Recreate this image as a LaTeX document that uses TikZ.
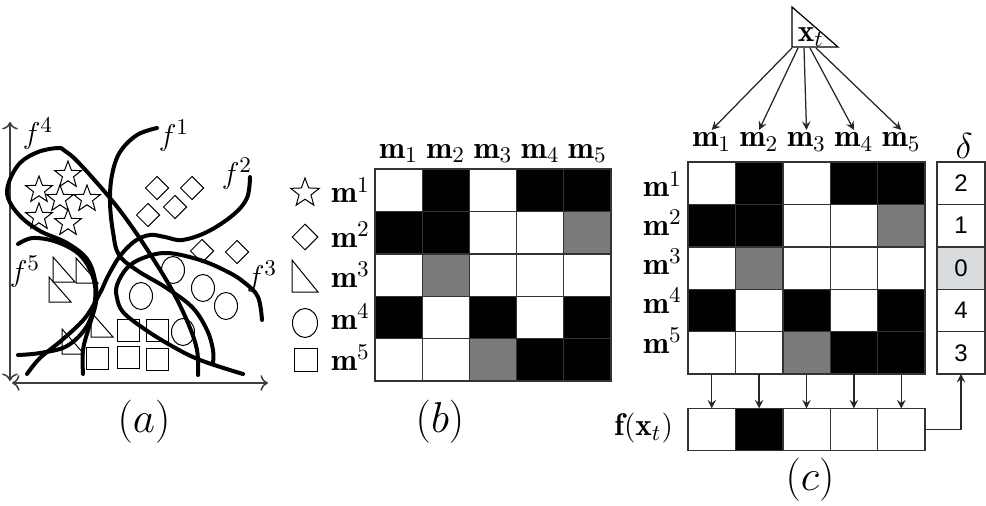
\documentclass[tikz,border=0pt]{standalone}
\usepackage{amsmath,amssymb}
\usepackage{fontspec}
\newfontfamily\digitfont{Liberation Sans}
\usepackage{tikz}
\usetikzlibrary{calc, positioning, shapes.geometric, arrows.meta}

\definecolor{cellW}{gray}{1}
\definecolor{cellK}{gray}{0}
\definecolor{cellG}{HTML}{7A7A7A}
\definecolor{cellL}{HTML}{D9DCDF}

\begin{document}
\begin{tikzpicture}[
  x=0.4pt, y=-0.4pt,
  font=\fontsize{12.5}{14}\selectfont,
  >=stealth,
  cell/.style={draw=black!80, line width=0.5pt, minimum width=18.9pt, minimum height=16.9pt, inner sep=0pt, outer sep=0pt},
  dcell/.style={cell, minimum width=19.2pt},
  curve/.style={line width=1.6pt, line cap=round},
  shp/.style={draw, line width=0.4pt, inner sep=0pt},
  starshp/.style={shp, star, star points=5, star point ratio=2.4, minimum size=11.2pt},
  diashp/.style={shp, diamond, minimum size=9.4pt},
  ellshp/.style={shp, ellipse, minimum width=9.2pt, minimum height=10.8pt},
  sqshp/.style={shp, rectangle, minimum size=8.8pt},
  lbl/.style={inner sep=1pt},
  panellbl/.style={font=\fontsize{17.28}{20}\selectfont},
  conn/.style={->, draw=black!85, line width=0.5pt},
  axis/.style={{To[length=3pt]}-{To[length=3pt]}, draw=black!75, line width=0.6pt}
]
\useasboundingbox (0,0) rectangle (986,506);

% (a) feature space with the five classifiers
\coordinate (ytop) at (10,122);
\coordinate (ybot) at (10,381);
\coordinate (xlft) at (12,383);
\coordinate (xrgt) at (268,383);
\draw[axis] (ytop) -- (ybot);
\draw[axis] (xlft) -- (xrgt);

\foreach \x/\y [count=\i] in {68/175,39/190,60/199,87/199,39/217,68/223}
  \node[starshp] (st-\i) at (\x,\y) {};
\foreach \x/\y [count=\i] in {157/188,192/188,175/207,148/215,202/251,237/252}
  \node[diashp] (di-\i) at (\x,\y) {};
\foreach \x/\y in {53/257,76/258,49/277,91/312,62/329}
  \draw[line width=0.4pt] (\x,\y) -- (\x,\y+25) -- (\x+22,\y+25) -- cycle;
\foreach \x/\y [count=\i] in {173/270,141/296,203/288,226/306,183/332}
  \node[ellshp] (el-\i) at (\x,\y) {};
\foreach \x/\y [count=\i] in {128/330,157/330,97/358,128/357,157/359}
  \node[sqshp] (sq-\i) at (\x,\y) {};

\draw[curve] plot[smooth, tension=0.6] coordinates {(157,128) (137,135) (120,152) (112,175) (110,202) (113,232) (119,255) (138,271) (165,287) (192,307) (207,330) (213,350) (213,363)};
\draw[curve] plot[smooth, tension=0.6] coordinates {(250,177) (247,198) (233,215) (207,232) (182,240) (165,237) (150,235) (135,241) (120,256) (108,276) (100,293) (85,318) (62,340) (40,358) (27,374)};
\draw[curve] plot[smooth, tension=0.6] coordinates {(262,320) (258,297) (245,283) (228,272) (200,260) (167,253) (143,258) (127,268) (117,285) (117,298) (123,312) (143,328) (170,345) (200,360) (243,374)};
\draw[curve] plot[smooth, tension=0.6] coordinates {(83,374) (83,350) (89,327) (96,302) (95,280) (87,259) (67,243) (40,231) (20,216) (8,198) (9,182) (20,163) (38,152) (58,148) (65,151) (78,162) (110,198) (132,227) (152,257) (172,290) (188,323) (197,350) (198,375)};
\draw[curve] plot[smooth, tension=0.6] coordinates {(18,244) (33,238) (57,242) (80,255) (93,277) (95,300) (87,326) (67,346) (40,353) (18,355)};

\node[lbl] (lf4) at (38,134) {$f^4$};
\node[lbl] (lf1) at (174,136) {$f^1$};
\node[lbl] (lf2) at (237,174) {$f^2$};
\node[lbl] (lf5) at (25,272) {$f^5$};
\node[lbl] (lf3) at (262,277) {$f^3$};
\node[panellbl] (cap-a) at (144,422) {$(a)$};

% (b) coding matrix with class symbols
\node[starshp, minimum size=12pt] (lg-1) at (305,193) {};
\node[diashp, minimum size=10.4pt] (lg-2) at (305,237) {};
\draw[line width=0.4pt] (292,260) -- (292,292) -- (318,292) -- cycle;
\node[ellshp, minimum width=10pt, minimum height=11.6pt] (lg-4) at (305,323) {};
\node[sqshp, minimum size=9pt] (lg-5) at (306,360) {};
\foreach \i/\yb in {1/203,2/247,3/287,4/329,5/370}
  \node[lbl, anchor=base west] (bm-\i) at (328,\yb) {$\mathbf{m}^{\i}$};
\foreach \i in {1,...,5}
  \node[lbl, anchor=base] (bc-\i) at ({375+(\i-0.5)*47.2},158) {$\mathbf{m}_{\i}$};

\foreach \r/\row in {1/{W,K,W,K,K},2/{K,K,W,W,G},3/{W,G,W,W,W},4/{K,W,K,W,K},5/{W,W,G,K,K}}
  \foreach \v [count=\c] in \row {
    \node[cell, fill=cell\v] (b-\r-\c) at ({375+(\c-0.5)*47.2},{169+(\r-0.5)*42.4}) {};
    \node[cell, fill=cell\v] (c-\r-\c) at ({688+(\c-0.5)*47.4},{162+(\r-0.5)*42.4}) {};
  }
\node[panellbl] (cap-b) at (440,422) {$(b)$};

% (c) decoding a test sample
\coordinate (tri) at (792,47);
\draw[line width=0.5pt] (tri) -- ++(0,-40) -- ++(46,40) -- cycle;
\node[lbl] (xt) at (811,37) {$\mathbf{x}_t$};
\foreach \i in {1,...,5}
  \node[lbl, anchor=base] (cm-\i) at ({688+(\i-0.5)*47.4},147) {$\mathbf{m}_{\i}$};
\foreach \i/\yb in {1/197,2/235,3/274,4/313,5/353}
  \node[lbl, anchor=base east] (rm-\i) at (685,\yb) {$\mathbf{m}^{\i}$};
\foreach \i/\dx in {1/0,2/6,3/12,4/18,5/24}
  \draw[conn] ($(tri)+(\dx,1)$) -- (cm-\i.north);

\node[font=\fontsize{14.4}{17}\selectfont] (dl) at (964,146) {$\delta$};
\foreach \v/\f [count=\r] in {2/W,1/W,0/L,4/W,3/W}
  \node[dcell, fill=cell\f, font=\digitfont\fontsize{9.6}{10}\selectfont] (d-\r) at (961,{162+(\r-0.5)*42.4}) {\v};

\foreach \v [count=\c] in {W,K,W,W,W}
  \node[cell, fill=cell\v] (f-\c) at ({688+(\c-0.5)*47.4},429.5) {};
\node[lbl, anchor=east] (fl) at (676,428) {$\mathbf{f}(\mathbf{x}_t)$};
\foreach \c in {1,...,5}
  \draw[conn] (c-5-\c.south) -- (f-\c.north);
\draw[conn] (f-5.east) -| (d-5.south);
\node[panellbl] (cap-c) at (810,480) {$(c)$};
\end{tikzpicture}
\end{document}
